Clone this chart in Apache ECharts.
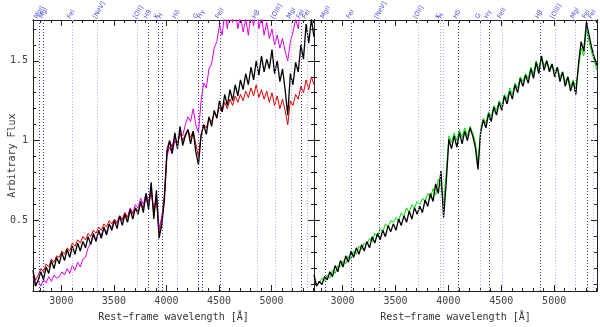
<!DOCTYPE html>
<html>
<head>
<meta charset="utf-8">
<script src="https://cdn.jsdelivr.net/npm/echarts@6/dist/echarts.min.js"></script>
<style>
  html, body { margin: 0; padding: 0; background: #fff; }
  #chart { width: 600px; height: 327px; }
</style>
</head>
<body>
<div id="chart"></div>
<script>
// rest-frame wavelength samples (Angstrom)
const wave = [
  2730, 2755, 2780, 2805, 2830, 2855, 2880, 2905, 2930, 2955,
  2980, 3005, 3030, 3055, 3080, 3105, 3130, 3155, 3180, 3205,
  3230, 3255, 3280, 3305, 3330, 3355, 3380, 3405, 3430, 3455,
  3480, 3505, 3530, 3555, 3580, 3605, 3630, 3655, 3680, 3705,
  3730, 3755, 3780, 3805, 3830, 3855, 3880, 3905, 3930, 3955,
  3980, 4005, 4030, 4055, 4080, 4105, 4130, 4155, 4180, 4205,
  4230, 4255, 4280, 4305, 4330, 4355, 4380, 4405, 4430, 4455,
  4480, 4505, 4530, 4555, 4580, 4605, 4630, 4655, 4680, 4705,
  4730, 4755, 4780, 4805, 4830, 4855, 4880, 4905, 4930, 4955,
  4980, 5005, 5030, 5055, 5080, 5105, 5130, 5155, 5180, 5205,
  5230, 5255, 5280, 5305, 5330, 5355, 5380, 5405
]

// left panel
const leftBlack = [
  0.19, 0.09, 0.13, 0.18, 0.13, 0.21, 0.17, 0.25, 0.20, 0.27,
  0.23, 0.30, 0.25, 0.32, 0.27, 0.34, 0.29, 0.36, 0.31, 0.37,
  0.33, 0.40, 0.35, 0.42, 0.37, 0.44, 0.39, 0.46, 0.41, 0.48,
  0.44, 0.50, 0.45, 0.53, 0.47, 0.54, 0.49, 0.57, 0.51, 0.58,
  0.54, 0.62, 0.55, 0.67, 0.57, 0.74, 0.51, 0.69, 0.39, 0.47,
  0.62, 0.92, 1.00, 0.92, 1.05, 0.95, 1.09, 0.97, 1.03, 1.07,
  0.98, 1.06, 0.93, 0.85, 1.03, 1.10, 1.04, 1.15, 1.09, 1.19,
  1.14, 1.25, 1.18, 1.29, 1.22, 1.32, 1.25, 1.35, 1.28, 1.38,
  1.32, 1.42, 1.35, 1.46, 1.38, 1.50, 1.41, 1.53, 1.43, 1.51,
  1.45, 1.57, 1.42, 1.50, 1.37, 1.45, 1.32, 1.16, 1.42, 1.35,
  1.49, 1.43, 1.60, 1.51, 1.73, 1.61, 1.76, 1.65
]
const leftRed = [
  0.17, 0.13, 0.16, 0.20, 0.18, 0.23, 0.21, 0.26, 0.24, 0.28,
  0.27, 0.31, 0.29, 0.33, 0.31, 0.36, 0.34, 0.38, 0.36, 0.40,
  0.38, 0.42, 0.40, 0.44, 0.42, 0.46, 0.44, 0.48, 0.46, 0.50,
  0.48, 0.51, 0.49, 0.53, 0.51, 0.55, 0.52, 0.57, 0.54, 0.58,
  0.56, 0.61, 0.58, 0.64, 0.60, 0.68, 0.55, 0.63, 0.42, 0.50,
  0.66, 0.95, 1.00, 0.96, 1.03, 0.98, 1.05, 1.00, 1.04, 1.07,
  1.02, 1.06, 0.98, 0.90, 1.04, 1.10, 1.08, 1.14, 1.12, 1.17,
  1.15, 1.21, 1.18, 1.24, 1.20, 1.26, 1.22, 1.28, 1.24, 1.29,
  1.25, 1.31, 1.27, 1.33, 1.28, 1.35, 1.27, 1.32, 1.26, 1.31,
  1.24, 1.30, 1.22, 1.28, 1.20, 1.26, 1.19, 1.10, 1.25, 1.22,
  1.29, 1.26, 1.34, 1.30, 1.38, 1.32, 1.40, 1.35
]
const leftMagenta = [
  0.15, 0.10, 0.12, 0.09, 0.13, 0.11, 0.15, 0.12, 0.16, 0.14,
  0.15, 0.18, 0.16, 0.20, 0.17, 0.22, 0.19, 0.24, 0.21, 0.26,
  0.27, 0.33, 0.36, 0.40, 0.38, 0.43, 0.41, 0.45, 0.43, 0.47,
  0.46, 0.50, 0.48, 0.53, 0.50, 0.55, 0.52, 0.58, 0.55, 0.60,
  0.58, 0.64, 0.60, 0.67, 0.62, 0.70, 0.56, 0.66, 0.45, 0.52,
  0.64, 0.90, 0.96, 0.92, 1.00, 0.97, 1.05, 1.03, 1.10, 1.15,
  1.12, 1.20, 1.10, 1.05, 1.25, 1.36, 1.33, 1.45, 1.48, 1.58,
  1.62, 1.72, 1.66, 1.80, 1.70, 1.84, 1.74, 1.82, 1.70, 1.78,
  1.68, 1.76, 1.66, 1.80, 1.72, 1.86, 1.70, 1.78, 1.66, 1.74,
  1.64, 1.70, 1.60, 1.66, 1.58, 1.64, 1.56, 1.50, 1.62, 1.68,
  1.76, 1.70, 1.85, 1.78, 1.90, 1.80, null, null
]

// right panel
const rightBlack = [
  0.16, 0.09, 0.12, 0.10, 0.15, 0.13, 0.18, 0.15, 0.22, 0.18,
  0.25, 0.21, 0.28, 0.24, 0.31, 0.27, 0.33, 0.29, 0.35, 0.31,
  0.37, 0.33, 0.40, 0.36, 0.42, 0.38, 0.44, 0.40, 0.47, 0.43,
  0.48, 0.44, 0.51, 0.47, 0.53, 0.49, 0.56, 0.51, 0.58, 0.54,
  0.59, 0.55, 0.63, 0.59, 0.67, 0.62, 0.73, 0.67, 0.81, 0.52,
  0.74, 1.01, 0.95, 1.03, 0.96, 1.05, 0.98, 1.06, 1.00, 1.08,
  1.03, 0.96, 0.82, 1.05, 1.13, 1.08, 1.17, 1.12, 1.21, 1.16,
  1.24, 1.19, 1.28, 1.23, 1.31, 1.26, 1.35, 1.30, 1.39, 1.34,
  1.41, 1.36, 1.45, 1.39, 1.49, 1.42, 1.53, 1.44, 1.50, 1.43,
  1.48, 1.40, 1.46, 1.37, 1.43, 1.34, 1.40, 1.31, 1.37, 1.29,
  1.48, 1.62, 1.56, 1.74, 1.66, 1.58, 1.52, 1.47
]
const rightGreen = [
  0.13, 0.10, 0.11, 0.14, 0.12, 0.16, 0.14, 0.19, 0.17, 0.22,
  0.21, 0.25, 0.23, 0.28, 0.26, 0.31, 0.29, 0.34, 0.32, 0.36,
  0.35, 0.39, 0.37, 0.42, 0.40, 0.45, 0.43, 0.48, 0.46, 0.50,
  0.49, 0.52, 0.50, 0.55, 0.53, 0.58, 0.55, 0.60, 0.58, 0.62,
  0.60, 0.64, 0.62, 0.67, 0.64, 0.70, 0.66, 0.76, 0.72, 0.60,
  0.80, 1.03, 0.99, 1.05, 1.00, 1.07, 1.02, 1.08, 1.03, 1.09,
  1.05, 0.99, 0.86, 1.07, 1.14, 1.11, 1.18, 1.15, 1.22, 1.19,
  1.25, 1.22, 1.29, 1.26, 1.33, 1.29, 1.36, 1.33, 1.40, 1.37,
  1.42, 1.39, 1.46, 1.42, 1.50, 1.45, 1.53, 1.47, 1.50, 1.45,
  1.48, 1.43, 1.46, 1.40, 1.43, 1.37, 1.40, 1.34, 1.38, 1.33,
  1.45, 1.58, 1.53, 1.70, 1.62, 1.55, 1.50, 1.44
]

// line identifications (strong = dark dotted, weak = light dotted)
const leftStrongWave = [2785, 2830, 3830, 3926, 3962, 4300, 4340, 4510, 5285]
const leftStrongName = ['MgII', 'MgI', 'H9', 'K', 'H', 'G', 'Hγ', 'FeII', 'FeI']
const leftWeakWave = [3100, 3346, 3727, 4102, 4862, 5040, 5190, 5340]
const leftWeakName = ['FeI', '[NeV]', '[OII]', 'Hδ', 'Hβ', '[OIII]', 'MgI', 'FeI']
const rightStrongWave = [2834, 3080, 3344, 4091, 4384, 4866, 5310]
const rightStrongName = ['MgII', 'FeI', '[NeV]', 'Hδ', 'Hγ', 'Hβ', 'FeI']
const rightWeakWave = [3713, 3921, 3949, 4299, 4507, 5008, 5197, 5367]
const rightWeakName = ['[OII]', 'K', 'H', 'G', 'FeII', '[OIII]', 'MgI', 'FeI']

// axis ranges and ticks
const xMin = 2730
const xMax = 5405
const yMin = 0.06
const yMax = 1.755
const xMajor = [3000, 3500, 4000, 4500, 5000]
const xMinor = [2800, 2900, 3100, 3200, 3300, 3400, 3600, 3700, 3800, 3900,
  4100, 4200, 4300, 4400, 4600, 4700, 4800, 4900, 5100, 5200, 5300, 5400]
const yMajor = [0.5, 1, 1.5]
const yMinor = [0.1, 0.2, 0.3, 0.4, 0.6, 0.7, 0.8, 0.9, 1.1, 1.2, 1.3, 1.4, 1.6, 1.7]

const axisColor = '#222'
const textColor = '#444'
const mono = '"DejaVu Sans Mono", monospace'

function pairs(ys) {
  return wave.map((w, i) => [w, ys[i]])
}

function tick(vals, len) {
  return { inside: true, length: len, customValues: vals, lineStyle: { color: axisColor } }
}

function makeX(g) {
  const base = {
    gridIndex: g, type: 'value', min: xMin, max: xMax,
    splitLine: { show: false },
    axisLine: { lineStyle: { color: axisColor, width: 1 } },
  }
  return [
    {
      ...base, position: 'bottom', axisTick: tick(xMajor, 6),
      axisLabel: {
        customValues: xMajor, margin: 5, fontSize: 10, fontFamily: mono, color: textColor,
        formatter: v => String(v),
      },
      name: 'Rest−frame wavelength [Å]', nameLocation: 'middle', nameGap: 21,
      nameMoveOverlap: false,
      nameTextStyle: { fontSize: 10, fontFamily: mono, color: '#333' },
    },
    { ...base, position: 'bottom', axisTick: tick(xMinor, 3), axisLabel: { show: false } },
    { ...base, position: 'top', axisTick: tick(xMajor, 6), axisLabel: { show: false } },
    { ...base, position: 'top', axisTick: tick(xMinor, 3), axisLabel: { show: false } },
  ]
}

function makeY(g, labels) {
  const base = {
    gridIndex: g, type: 'value', min: yMin, max: yMax,
    splitLine: { show: false },
    axisLine: { lineStyle: { color: axisColor, width: 1 } },
  }
  const main = {
    ...base, position: 'left', axisTick: tick(yMajor, 6),
    axisLabel: labels
      ? { customValues: yMajor, margin: 5, fontSize: 10, fontFamily: mono, color: textColor }
      : { show: false },
  }
  if (labels) {
    main.name = 'Arbitrary Flux'
    main.nameLocation = 'middle'
    main.nameGap = 16
    main.nameMoveOverlap = false
    main.nameTextStyle = { fontSize: 10, fontFamily: mono, color: '#333' }
  }
  return [
    main,
    { ...base, position: 'left', axisTick: tick(yMinor, 3), axisLabel: { show: false } },
    { ...base, position: 'right', axisTick: tick(yMajor, 6), axisLabel: { show: false } },
    { ...base, position: 'right', axisTick: tick(yMinor, 3), axisLabel: { show: false } },
  ]
}

function idSeries(g, waves, names, lineColor) {
  const style = { color: lineColor, type: [1, 2], width: 1 }
  return {
    type: 'scatter',
    xAxisIndex: g * 4,
    yAxisIndex: g * 4,
    symbolSize: 0,
    clip: false,
    silent: true,
    itemStyle: { color: lineColor },
    data: waves.map((w, i) => ({ value: [w, yMax], name: names[i] })),
    label: {
      show: true, formatter: '{b}', position: 'right', distance: 0, rotate: 60,
      align: 'left', verticalAlign: 'bottom',
      fontSize: 6.5, fontFamily: '"DejaVu Sans", sans-serif', color: '#2424d0',
    },
    markLine: {
      silent: true, symbol: 'none', animation: false,
      label: { show: false },
      lineStyle: style,
      data: waves.map(w => ({ xAxis: w, lineStyle: style })),
    },
  }
}

function spectrum(g, ys, color, width) {
  return {
    type: 'line',
    xAxisIndex: g * 4,
    yAxisIndex: g * 4,
    data: pairs(ys),
    showSymbol: false,
    clip: true,
    connectNulls: false,
    lineStyle: { color: color, width: width },
  }
}

const chart = echarts.init(document.getElementById('chart'))
chart.setOption({
  animation: false,
  backgroundColor: '#fff',
  grid: [
    { left: 33, top: 20, width: 281, height: 280 },
    { left: 314, top: 20, width: 283, height: 280 },
  ],
  xAxis: [...makeX(0), ...makeX(1)],
  yAxis: [...makeY(0, true), ...makeY(1, false)],
  series: [
    idSeries(0, leftWeakWave, leftWeakName, '#b3aceb'),
    idSeries(0, leftStrongWave, leftStrongName, '#3535c0'),
    idSeries(1, rightWeakWave, rightWeakName, '#b3aceb'),
    idSeries(1, rightStrongWave, rightStrongName, '#3535c0'),
    spectrum(0, leftMagenta, '#e000e0', 1),
    spectrum(0, leftRed, '#e00000', 1),
    spectrum(0, leftBlack, '#000000', 1.3),
    spectrum(1, rightGreen, '#00e000', 1),
    spectrum(1, rightBlack, '#000000', 1.3),
  ],
})
</script>
</body>
</html>
